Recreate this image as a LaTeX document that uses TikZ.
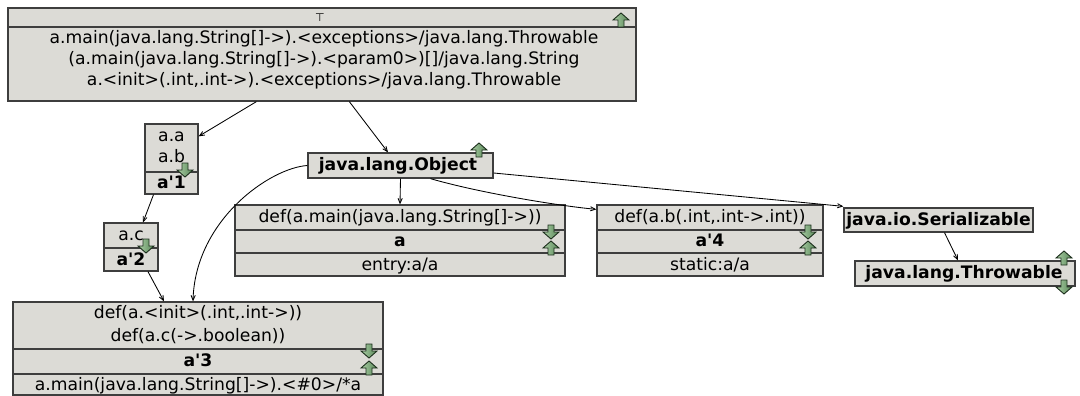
\documentclass[tikz,border=0pt]{standalone}
\usepackage{fontspec}
\usepackage{tikz}
\usetikzlibrary{calc,arrows,positioning}
\newfontfamily\boxfont{DejaVu Sans}
\definecolor{boxgray}{RGB}{220,219,214}
\definecolor{boxline}{RGB}{62,62,62}
\definecolor{iconlight}{RGB}{170,206,164}
\definecolor{icondark}{RGB}{88,134,88}
\definecolor{iconline}{RGB}{30,48,30}
\tikzset{cell/.style={draw=boxline,fill=boxgray,line width=1.3pt,inner sep=0pt},
txt/.style={font=\boxfont\fontsize{17.2}{20}\selectfont,inner sep=0pt,text height=12pt,text depth=3.5pt},
btxt/.style={txt,font=\boxfont\bfseries\fontsize{17.2}{20}\selectfont},
sep/.style={draw=boxline,line width=1.3pt},
edge/.style={->,>=angle 45,line width=0.85pt}}

\begin{document}
\begin{tikzpicture}[x=1pt,y=-1pt]

\tikzset{icon/.style={left color=iconlight,right color=icondark,draw=iconline,line width=0.9pt},
uparr/.pic={\path[icon] (-3,7) -- (-3,0) -- (-8,0) -- (0,-7) -- (8,0) -- (3,0) -- (3,7) -- cycle;},
dnarr/.pic={\path[icon] (-3,-7) -- (-3,0) -- (-8,0) -- (0,7) -- (8,0) -- (3,0) -- (3,-7) -- cycle;}}

\useasboundingbox (0,0) rectangle (1080,396);

% Boxes
\node[cell,minimum width=628,minimum height=93] (top) at (322,54.5) {};
\node[cell,minimum width=53,minimum height=70] (aone) at (171.5,159) {};
\node[cell,minimum width=54,minimum height=48] (atwo) at (131,247) {};
\node[cell,minimum width=185,minimum height=25] (obj) at (400.5,165.5) {};
\node[cell,minimum width=330,minimum height=71] (defmain) at (400,240.5) {};
\node[cell,minimum width=226,minimum height=71] (defb) at (710,240.5) {};
\node[cell,minimum width=189,minimum height=24] (ser) at (938.5,220) {};
\node[cell,minimum width=220,minimum height=25] (thr) at (965,273.5) {};
\node[cell,minimum width=370,minimum height=93] (athree) at (198,348.5) {};

% Separators
\draw[sep] (top.west |- 0,27) -- (top.east |- 0,27);
\draw[sep] (aone.west |- 0,172) -- (aone.east |- 0,172);
\draw[sep] (atwo.west |- 0,248) -- (atwo.east |- 0,248);
\foreach \b in {defmain,defb} {\draw[sep] (\b.west |- 0,230) -- (\b.east |- 0,230); \draw[sep] (\b.west |- 0,253) -- (\b.east |- 0,253);}
\draw[sep] (athree.west |- 0,349) -- (athree.east |- 0,349);
\draw[sep] (athree.west |- 0,374) -- (athree.east |- 0,374);

% Labels
\node[txt,font=\boxfont\fontsize{11}{13}\selectfont,text height=8pt,text depth=0pt] (topT) at (320,17.5) {⊤};
\node[txt] (topA) at (324,39) {a.main(java.lang.String[]->).<exceptions>/java.lang.Throwable};
\node[txt] (topB) at (324,60) {(a.main(java.lang.String[]->).<param0>)[]/java.lang.String};
\node[txt] (topC) at (324,81) {a.<init>(.int,.int->).<exceptions>/java.lang.Throwable};
\node[txt] (aoneA) at (171.5,137) {a.a};
\node[txt] (aoneB) at (171.5,158) {a.b};
\node[btxt] (aoneC) at (171.5,184) {a'1};
\node[txt] (atwoA) at (131,236.5) {a.c};
\node[btxt] (atwoB) at (131,261) {a'2};
\node[btxt] (objA) at (398,166.5) {java.lang.Object};
\node[txt] (defmainA) at (400,218.5) {def(a.main(java.lang.String[]->))};
\node[btxt] (defmainB) at (400,242.5) {a};
\node[txt] (defmainC) at (400,266) {entry:a/a};
\node[txt] (defbA) at (710,218.5) {def(a.b(.int,.int->.int))};
\node[btxt] (defbB) at (710,242.5) {a'4};
\node[txt] (defbC) at (710,266) {static:a/a};
\node[btxt] (serA) at (938.5,221) {java.io.Serializable};
\node[btxt] (thrA) at (964,274.5) {java.lang.Throwable};
\node[txt] (athreeA) at (198,314.5) {def(a.<init>(.int,.int->))};
\node[txt] (athreeB) at (198,337.5) {def(a.c(->.boolean))};
\node[btxt] (athreeC) at (198,362.5) {a'3};
\node[txt] (athreeD) at (198,386) {a.main(java.lang.String[]->).<\#0>/*a};

% Edges
\draw[edge] ([xshift=249]top.south west) -- ([yshift=-13]aone.north east);
\draw[edge] ([xshift=342]top.south west) -- ([xshift=-12.5]obj.north);
\draw[edge] (obj.south) -- (defmain.north);
\draw[edge] ([xshift=30]obj.south) .. controls (480,193) and (560,206) .. ([yshift=-5]defb.north west);
\draw[edge] ([yshift=-7.5]obj.east) -- ([yshift=1]ser.north west);
\draw[edge] (obj.west) .. controls (270,168) and (195,220) .. ([xshift=-5]athree.north);
\draw[edge] ([xshift=6]ser.south) -- ([xshift=-7]thr.north);
\draw[edge] ([xshift=-18]aone.south) -- ([xshift=12]atwo.north);
\draw[edge] ([xshift=17]atwo.south) -- ([xshift=-34]athree.north);

% Icons
\pic at (621,20) {uparr};
\pic at (185,170) {dnarr};
\pic at (146,246) {dnarr};
\pic at (479,150) {uparr};
\foreach \x in {551,808} {\pic at (\x,232) {dnarr}; \pic at (\x,248) {uparr};}
\pic at (369,351) {dnarr};
\pic at (369,368) {uparr};
\pic at (1064,258) {uparr};
\pic at (1064,287) {dnarr};

\end{tikzpicture}
\end{document}
